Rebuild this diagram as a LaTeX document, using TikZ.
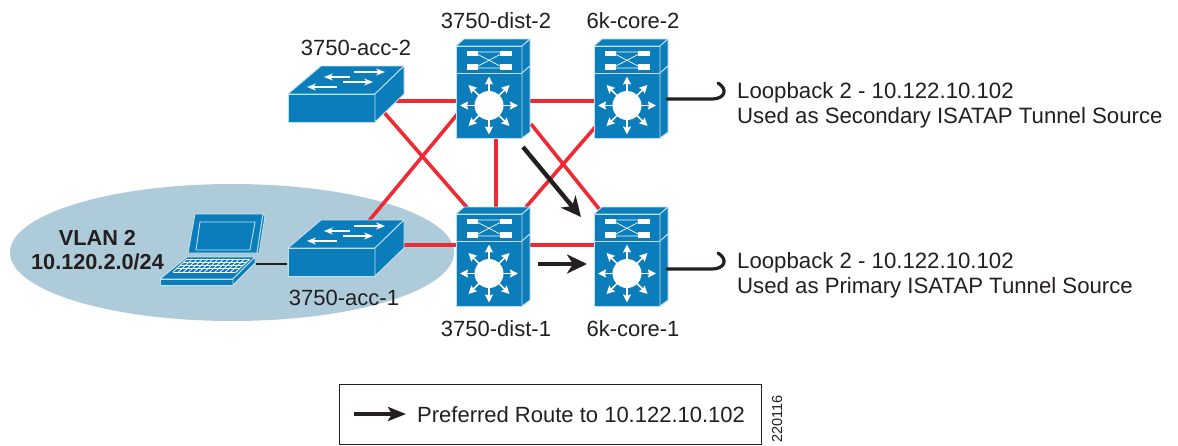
\documentclass[tikz,border=0pt]{standalone}
\usepackage{fontspec}
\setmainfont{Liberation Sans}
\usetikzlibrary{arrows.meta,calc,shapes.geometric}
\definecolor{devblue}{HTML}{0A7DBA}
\definecolor{linkred}{HTML}{EE2A35}
\definecolor{cloud}{HTML}{AECBD9}
\definecolor{ink}{HTML}{231F20}
\tikzset{
  link/.style={draw=linkred,line width=3.6pt},
  route/.style={draw=ink,line width=4.4pt,-{Stealth[length=20pt,width=19pt,inset=6pt]}},
  legendroute/.style={draw=ink,line width=3.8pt,-{Stealth[length=18pt,width=14pt,inset=4pt]}},
  stub/.style={draw=ink,line width=3.2pt,line cap=round},
  face/.style={fill=devblue,draw=white!75!devblue,line width=0.9pt,line join=round},
  glyph/.style={draw=white,line width=1.5pt,-{Stealth[length=9pt,width=7pt]}},
  gtip/.style={draw=white,line width=1.5pt,-{Stealth[length=8pt,width=8pt,inset=1pt]}},
  lbl/.style={inner sep=0pt,font=\fontsize{22}{25}\selectfont,text=ink},
  note/.style={inner sep=0pt,font=\fontsize{22.2}{25}\selectfont,text=ink,align=left,anchor=west},
  holder/.style={inner sep=0pt,minimum width=0pt,minimum height=0pt},
  pics/l2switch/.style={code={
    \path[face] (0,0) -- (33,-28) -- (116,-28) -- (87,0) -- cycle;
    \path[face] (0,0) rectangle (87,28);
    \path[face] (87,0) -- (116,-28) -- (116,0) -- (87,28) -- cycle;
    \draw[glyph] (66,-22) -- (97,-22);
    \draw[glyph] (55,-12) -- (85,-12);
    \draw[glyph] (62,-17) -- (36,-17);
    \draw[glyph] (49,-7) -- (19,-7);
  }},
  pics/l3switch/.style={code={
    % origin: front upper-left corner of the top box
    \path[face] (0,0) -- (8,-7) -- (74,-7) -- (66,0) -- cycle;
    \path[face] (0,0) rectangle (66,27);
    \path[face] (66,0) -- (74,-7) -- (74,20) -- (66,27) -- cycle;
    \path[face] (0,27) rectangle (66,92);
    \path[face] (66,27) -- (74,20) -- (74,86) -- (66,92) -- cycle;
    \fill[white] (10.5,4.5) rectangle (22,10);
    \fill[white] (10.5,18) rectangle (22,24);
    \fill[white] (44,4.5) rectangle (56,10);
    \fill[white] (44,18) rectangle (56,24);
    \draw[white,line width=.7pt] (22,6) -- (44,6) (22,22) -- (44,22) (22,8.5) -- (44,20) (22,20) -- (44,8.5);
    \fill[white] (33,59.5) circle (14.5);
    \foreach \a in {0,45,...,315}{
      \draw[gtip] ($(33,59.5)+(\a:13)$) -- ($(33,59.5)+(\a:29)$);
    }
  }},
  pics/notebook/.style={code={
    % lid
    \path[face] (7,-44) -- (75,-44) -- (69,-5) -- (0,-5) -- cycle;
    \path[face] (75,-44) -- (77,-42) -- (71,-4) -- (69,-5) -- cycle;
    \path[face] (12,-36) -- (67,-36) -- (62,-8) -- (8,-8) -- cycle;
    % base
    \path[face] (-1,-1) -- (67,-1) -- (45,21) -- (-28,21) -- cycle;
    \path[face] (-28,21) -- (45,21) -- (45,27) -- (-28,27) -- cycle;
    \path[face] (45,21) -- (67,-1) -- (67,5) -- (45,27) -- cycle;
    \begin{scope}[white,line width=.8pt]
      \foreach \t in {0,.25,.5,.75,1}{
        \draw ($(-1,1)!\t!(-15,14)$) -- ($(62,1)!\t!(48,14)$);
      }
      \foreach \t in {0,.0833,...,1.01}{
        \draw ($(-1,1)!\t!(62,1)$) -- ($(-15,14)!\t!(48,14)$);
      }
    \end{scope}
  }}
}
\begin{document}
\begin{tikzpicture}[x=1pt,y=-1pt]
\useasboundingbox (0,0) rectangle (1178,445);
\fill[white] (0,0) rectangle (1178,445);
\node[holder,draw=none,fill=cloud,shape=ellipse,minimum width=444pt,minimum height=137pt] (vlan) at (232,252.5) {};

% link ends (ports of the devices)
\coordinate (acc2-e) at (375,101);
\coordinate (acc2-s) at (382,110);
\coordinate (acc1-n) at (368,222);
\coordinate (acc1-e) at (400,245);
\coordinate (dist2-w) at (460,101);
\coordinate (dist2-sw) at (460,111);
\coordinate (dist2-e) at (525,101);
\coordinate (dist2-s) at (496,135);
\coordinate (dist2-se) at (531,124);
\coordinate (core2-w) at (598,101);
\coordinate (core2-sw) at (597,125);
\coordinate (dist1-w) at (460,245);
\coordinate (dist1-n) at (496,210);
\coordinate (dist1-nw) at (470,211);
\coordinate (dist1-ne) at (526,207);
\coordinate (dist1-e) at (525,245);
\coordinate (core1-w) at (598,245);
\coordinate (core1-nw) at (600,210);

\draw[link] (acc2-e) -- (dist2-w);
\draw[link] (acc2-s) -- (dist1-nw);
\draw[link] (acc1-n) -- (dist2-sw);
\draw[link] (acc1-e) -- (dist1-w);
\draw[link] (dist2-e) -- (core2-w);
\draw[link] (dist2-s) -- (dist1-n);
\draw[link] (dist2-se) -- (core1-nw);
\draw[link] (dist1-ne) -- (core2-sw);
\draw[link] (dist1-e) -- (core1-w);

% devices
\pic at (288,94) {l2switch};
\pic at (288,248) {l2switch};
\pic at (456,46) {l3switch};
\pic at (594,46) {l3switch};
\pic at (456,214) {l3switch};
\pic at (594,214) {l3switch};
\pic at (188,258) {notebook};

% device name anchors
\node[holder] (acc2) at (346,94) {};
\node[holder] (acc1) at (346,248) {};
\node[holder] (dist2) at (492,92) {};
\node[holder] (core2) at (630,92) {};
\node[holder] (dist1) at (492,260) {};
\node[holder] (core1) at (630,260) {};
\node[holder] (laptop) at (210,262) {};

\coordinate (lap-port) at (256,264);
\coordinate (acc1-w) at (287,264);
\draw[ink,line width=2.6pt] (lap-port) -- (acc1-w);

% labels
\node[lbl] (t-acc2) at (356,48) {3750-acc-2};
\node[lbl] (t-dist2) at (496,21) {3750-dist-2};
\node[lbl] (t-core2) at (633,21) {6k-core-2};
\node[lbl] (t-acc1) at (344,298) {3750-acc-1};
\node[lbl] (t-dist1) at (496,329) {3750-dist-1};
\node[lbl] (t-core1) at (633,329) {6k-core-1};
\node[inner sep=0pt,align=center,font=\bfseries\fontsize{21.7}{24.5}\selectfont,text=ink] (t-vlan) at (97.5,250) {VLAN 2\\10.120.2.0/24};

% loopback stubs
\coordinate (l2) at (667,99);
\coordinate (l2-end) at (718,83);
\coordinate (l1) at (667,269);
\coordinate (l1-end) at (718,253);
\draw[stub] (l2) -- ++(45,0) .. controls +(12,0) and ($(l2-end)+(11,7)$) .. (l2-end);
\draw[stub] (l1) -- ++(45,0) .. controls +(12,0) and ($(l1-end)+(11,7)$) .. (l1-end);
\node[note] (n2) at (737,105) {Loopback 2 - 10.122.10.102\\Used as Secondary ISATAP Tunnel Source};
\node[note] (n1) at (737,275) {Loopback 2 - 10.122.10.102\\Used as Primary ISATAP Tunnel Source};

% preferred routes
\coordinate (r1a) at (538,264);
\coordinate (r1b) at (587,264);
\coordinate (r2a) at (523,147);
\coordinate (r2b) at (581,217);
\draw[route] (r1a) -- (r1b);
\draw[route] (r2a) -- (r2b);

% legend
\node[draw=ink,line width=.8pt,minimum width=422pt,minimum height=60pt,inner sep=0pt] (legend) at (550,414) {};
\coordinate (la) at (354,414);
\coordinate (lb) at (406,414);
\draw[legendroute] (la) -- (lb);
\node[lbl,anchor=west] (t-legend) at (417,415) {Preferred Route to 10.122.10.102};
\node[inner sep=0pt,rotate=90,font=\fontsize{14.5}{16}\selectfont,text=ink] (t-id) at (777,419) {220116};
\end{tikzpicture}
\end{document}
